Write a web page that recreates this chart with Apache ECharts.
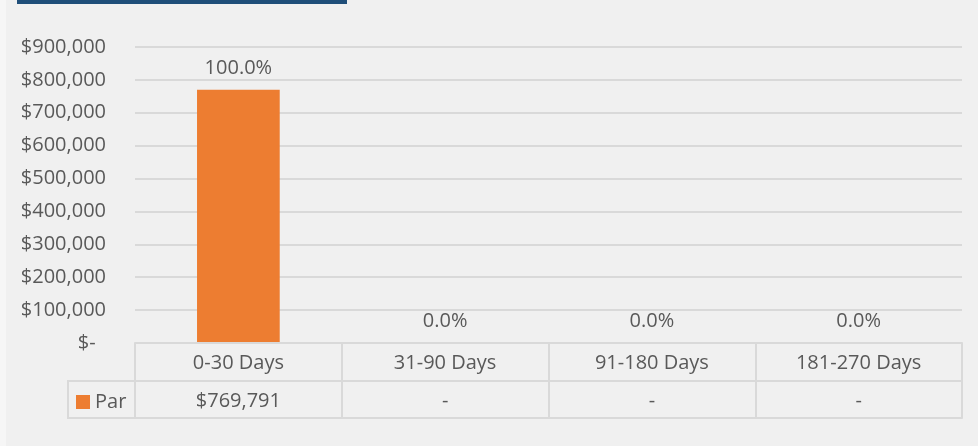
<!DOCTYPE html>
<html><head><meta charset="utf-8">
<style>html,body{margin:0;padding:0;background:#f0f0f0;}#c{width:978px;height:446px;}</style>
<script src="https://cdn.jsdelivr.net/npm/echarts@6/dist/echarts.min.js"></script>
</head><body><div id="c"></div>
<script>
var categories = ['0-30 Days', '31-90 Days', '91-180 Days', '181-270 Days'];
var parValues = [769791, 0, 0, 0];
var pctLabels = ['100.0%', '0.0%', '0.0%', '0.0%'];
var yTicks = [0, 100000, 200000, 300000, 400000, 500000, 600000, 700000, 800000, 900000];

var FONT = '"Open Sans", "Liberation Sans", sans-serif';
var TXT = '#595959';
var LINE = '#d9d9d9';
var FS = 20;

function money(v) {
  if (v === 0) return '$-  ';
  return '$' + v.toLocaleString('en-US');
}
function cell(v) { return v === 0 ? '-' : '$' + v.toLocaleString('en-US'); }

var chart = echarts.init(document.getElementById('c'));
chart.setOption({
  backgroundColor: '#f0f0f0',
  animation: false,
  textStyle: { fontFamily: FONT },
  grid: { left: 135, right: 16, top: 47, bottom: 103 },
  legend: {
    left: 71, top: 387, itemWidth: 14, itemHeight: 14, itemGap: 5,
    icon: 'rect',
    textStyle: { color: TXT, fontSize: FS, fontFamily: FONT },
    data: ['Par']
  },
  xAxis: [
    {
      type: 'category', data: categories, position: 'bottom',
      axisLine: { show: true, lineStyle: { color: LINE, width: 2 } },
      axisTick: { show: true, interval: 0, length: 75, lineStyle: { color: LINE, width: 2 } },
      axisLabel: { color: TXT, fontSize: FS, margin: 10, fontFamily: FONT, interval: 0 },
      z: 5
    },
    {
      type: 'category', data: parValues.map(cell), position: 'bottom', offset: 38,
      axisLine: { show: true, lineStyle: { color: LINE, width: 2 } },
      axisTick: { show: false },
      axisLabel: { color: TXT, fontSize: FS, margin: 10, fontFamily: FONT, interval: 0 }
    },
    {
      type: 'category', data: categories, position: 'bottom', offset: 75,
      axisLine: { show: true, lineStyle: { color: LINE, width: 2 } },
      axisTick: { show: false },
      axisLabel: { show: false }
    }
  ],
  yAxis: {
    type: 'value', min: 0, max: 900000, interval: 100000,
    axisLine: { show: false }, axisTick: { show: false },
    splitLine: { lineStyle: { color: LINE, width: 2 } },
    axisLabel: { color: TXT, fontSize: FS, margin: 29, fontFamily: FONT, formatter: money }
  },
  graphic: [
    { type: 'rect', shape: { x: 0, y: 0, width: 6, height: 446 }, style: { fill: '#f6f6f6' }, silent: true },
    { type: 'rect', shape: { x: 17, y: 0, width: 330, height: 4 }, style: { fill: '#1f4e79' }, silent: true },
    { type: 'line', shape: { x1: 68, y1: 381, x2: 135, y2: 381 }, style: { stroke: LINE, lineWidth: 2 }, silent: true },
    { type: 'line', shape: { x1: 68, y1: 418, x2: 135, y2: 418 }, style: { stroke: LINE, lineWidth: 2 }, silent: true },
    { type: 'line', shape: { x1: 68, y1: 380, x2: 68, y2: 419 }, style: { stroke: LINE, lineWidth: 2 }, silent: true }
  ],
  series: [{
    name: 'Par', type: 'bar', data: parValues, barWidth: '40%',
    itemStyle: { color: '#ed7d31' },
    label: {
      show: true, position: 'top', distance: 12, color: TXT, fontSize: FS, fontFamily: FONT,
      formatter: function (p) { return pctLabels[p.dataIndex]; }
    }
  }]
});
</script></body></html>
